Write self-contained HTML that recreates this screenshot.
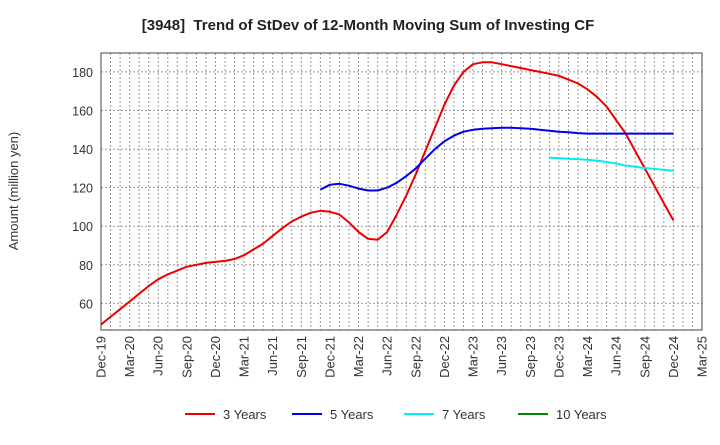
<!DOCTYPE html>
<html><head><meta charset="utf-8"><style>
body{margin:0;background:#fff;}
svg{font-family:"Liberation Sans",Arial,sans-serif;}
</style></head><body>
<svg id="chart" width="720" height="440">
<text x="368" y="30" text-anchor="middle" font-size="15" font-weight="bold" fill="#222">[3948]&#160; Trend of StDev of 12-Month Moving Sum of Investing CF</text>
<text transform="translate(18,191) rotate(-90)" text-anchor="middle" font-size="13" fill="#333">Amount (million yen)</text>
<g id="grid"></g><g id="series"></g><g id="axes"></g>
<g id="legend"></g>
</svg>
<script>
const yTicks=[60,80,100,120,140,160,180];
const xLabels=["Dec-19","Mar-20","Jun-20","Sep-20","Dec-20","Mar-21","Jun-21","Sep-21","Dec-21","Mar-22","Jun-22","Sep-22","Dec-22","Mar-23","Jun-23","Sep-23","Dec-23","Mar-24","Jun-24","Sep-24","Dec-24","Mar-25"];
const seriesNames=["3 Years","5 Years","7 Years","10 Years"];
const seriesColors=["#ee0000","#0000ee","#00eeee","#008800"];
const y3=[49,53,57,61,65,69,72.5,75,77,79,80,81,81.5,82,83,85,88,91,95,99,102.5,105,107,108,107.5,106,102,97,93.5,93,97,106,116,127,139,151,163,173,180,184,185,185,184,183,182,181,180,179,178,176,174,171,167,162,155,148,139,130,121,112,103];
const start5=23;
const y5=[119,121.5,122,121,119.5,118.5,118.5,120,122.5,126,130,135,140,144,147,149,150,150.5,150.8,151,151,150.8,150.5,150,149.5,149,148.7,148.3,148,148,148,148,148,148,148,148,148,148];
const start7=47;
const y7=[135.5,135.3,135,134.8,134.5,134,133.3,132.5,131.5,130.8,130.2,129.7,129.2,128.8];
const y10=[];
const L=101,R=702,T=53,B=330,yMin=46.2,yMax=189.8,nMonths=63;
const X=i=>L+(R-L)*i/nMonths;
const Y=v=>B-(B-T)*(v-yMin)/(yMax-yMin);
const NS="http://www.w3.org/2000/svg";
function mk(t,a,p){const e=document.createElementNS(NS,t);for(const k in a)e.setAttribute(k,a[k]);p.appendChild(e);return e;}
const grid=document.getElementById('grid'),axes=document.getElementById('axes'),ser=document.getElementById('series'),leg=document.getElementById('legend');
for(let i=1;i<nMonths;i++){const g=mk('line',{x1:X(i),x2:X(i),y1:T,y2:B,stroke:'#999','stroke-dasharray':'2,2','stroke-width':1},grid);

}
yTicks.forEach(v=>{const g=mk('line',{x1:L,x2:R,y1:Y(v),y2:Y(v),stroke:'#999','stroke-dasharray':'2,2'},grid);


const t=mk('text',{x:L-8,y:Y(v)+5,'text-anchor':'end','font-size':12.5,fill:'#333'},axes);t.textContent=v;

});
xLabels.forEach((s,k)=>{const x=X(k*3);const t=mk('text',{transform:`translate(${x+4.5},${B+6}) rotate(-90)`,'text-anchor':'end','font-size':13,fill:'#333'},axes);t.textContent=s;

});
const fr=mk('rect',{x:L,y:T,width:R-L,height:B-T,fill:'none',stroke:'#444','stroke-width':1},axes);


function line(vals,st,c,name){if(!vals.length)return;const d=vals.map((v,i)=>(i?'L':'M')+X(st+i).toFixed(1)+','+Y(v).toFixed(1)).join('');
const p=mk('path',{d:d,fill:'none',stroke:c,'stroke-width':2,'stroke-linejoin':'round'},ser);

}
line(y3,0,seriesColors[0],'series-3-years');
line(y5,start5,seriesColors[1],'series-5-years');
line(y7,start7,seriesColors[2],'series-7-years');
line(y10,0,seriesColors[3],'series-10-years');
const lx=[185,292,404,518];
seriesNames.forEach((n,i)=>{const g=mk('g',{},leg);


mk('line',{x1:lx[i],x2:lx[i]+30,y1:414,y2:414,stroke:seriesColors[i],'stroke-width':2},g);
const t=mk('text',{x:lx[i]+38,y:419,'font-size':13,fill:'#333'},g);t.textContent=n;});
</script>
</body></html>
